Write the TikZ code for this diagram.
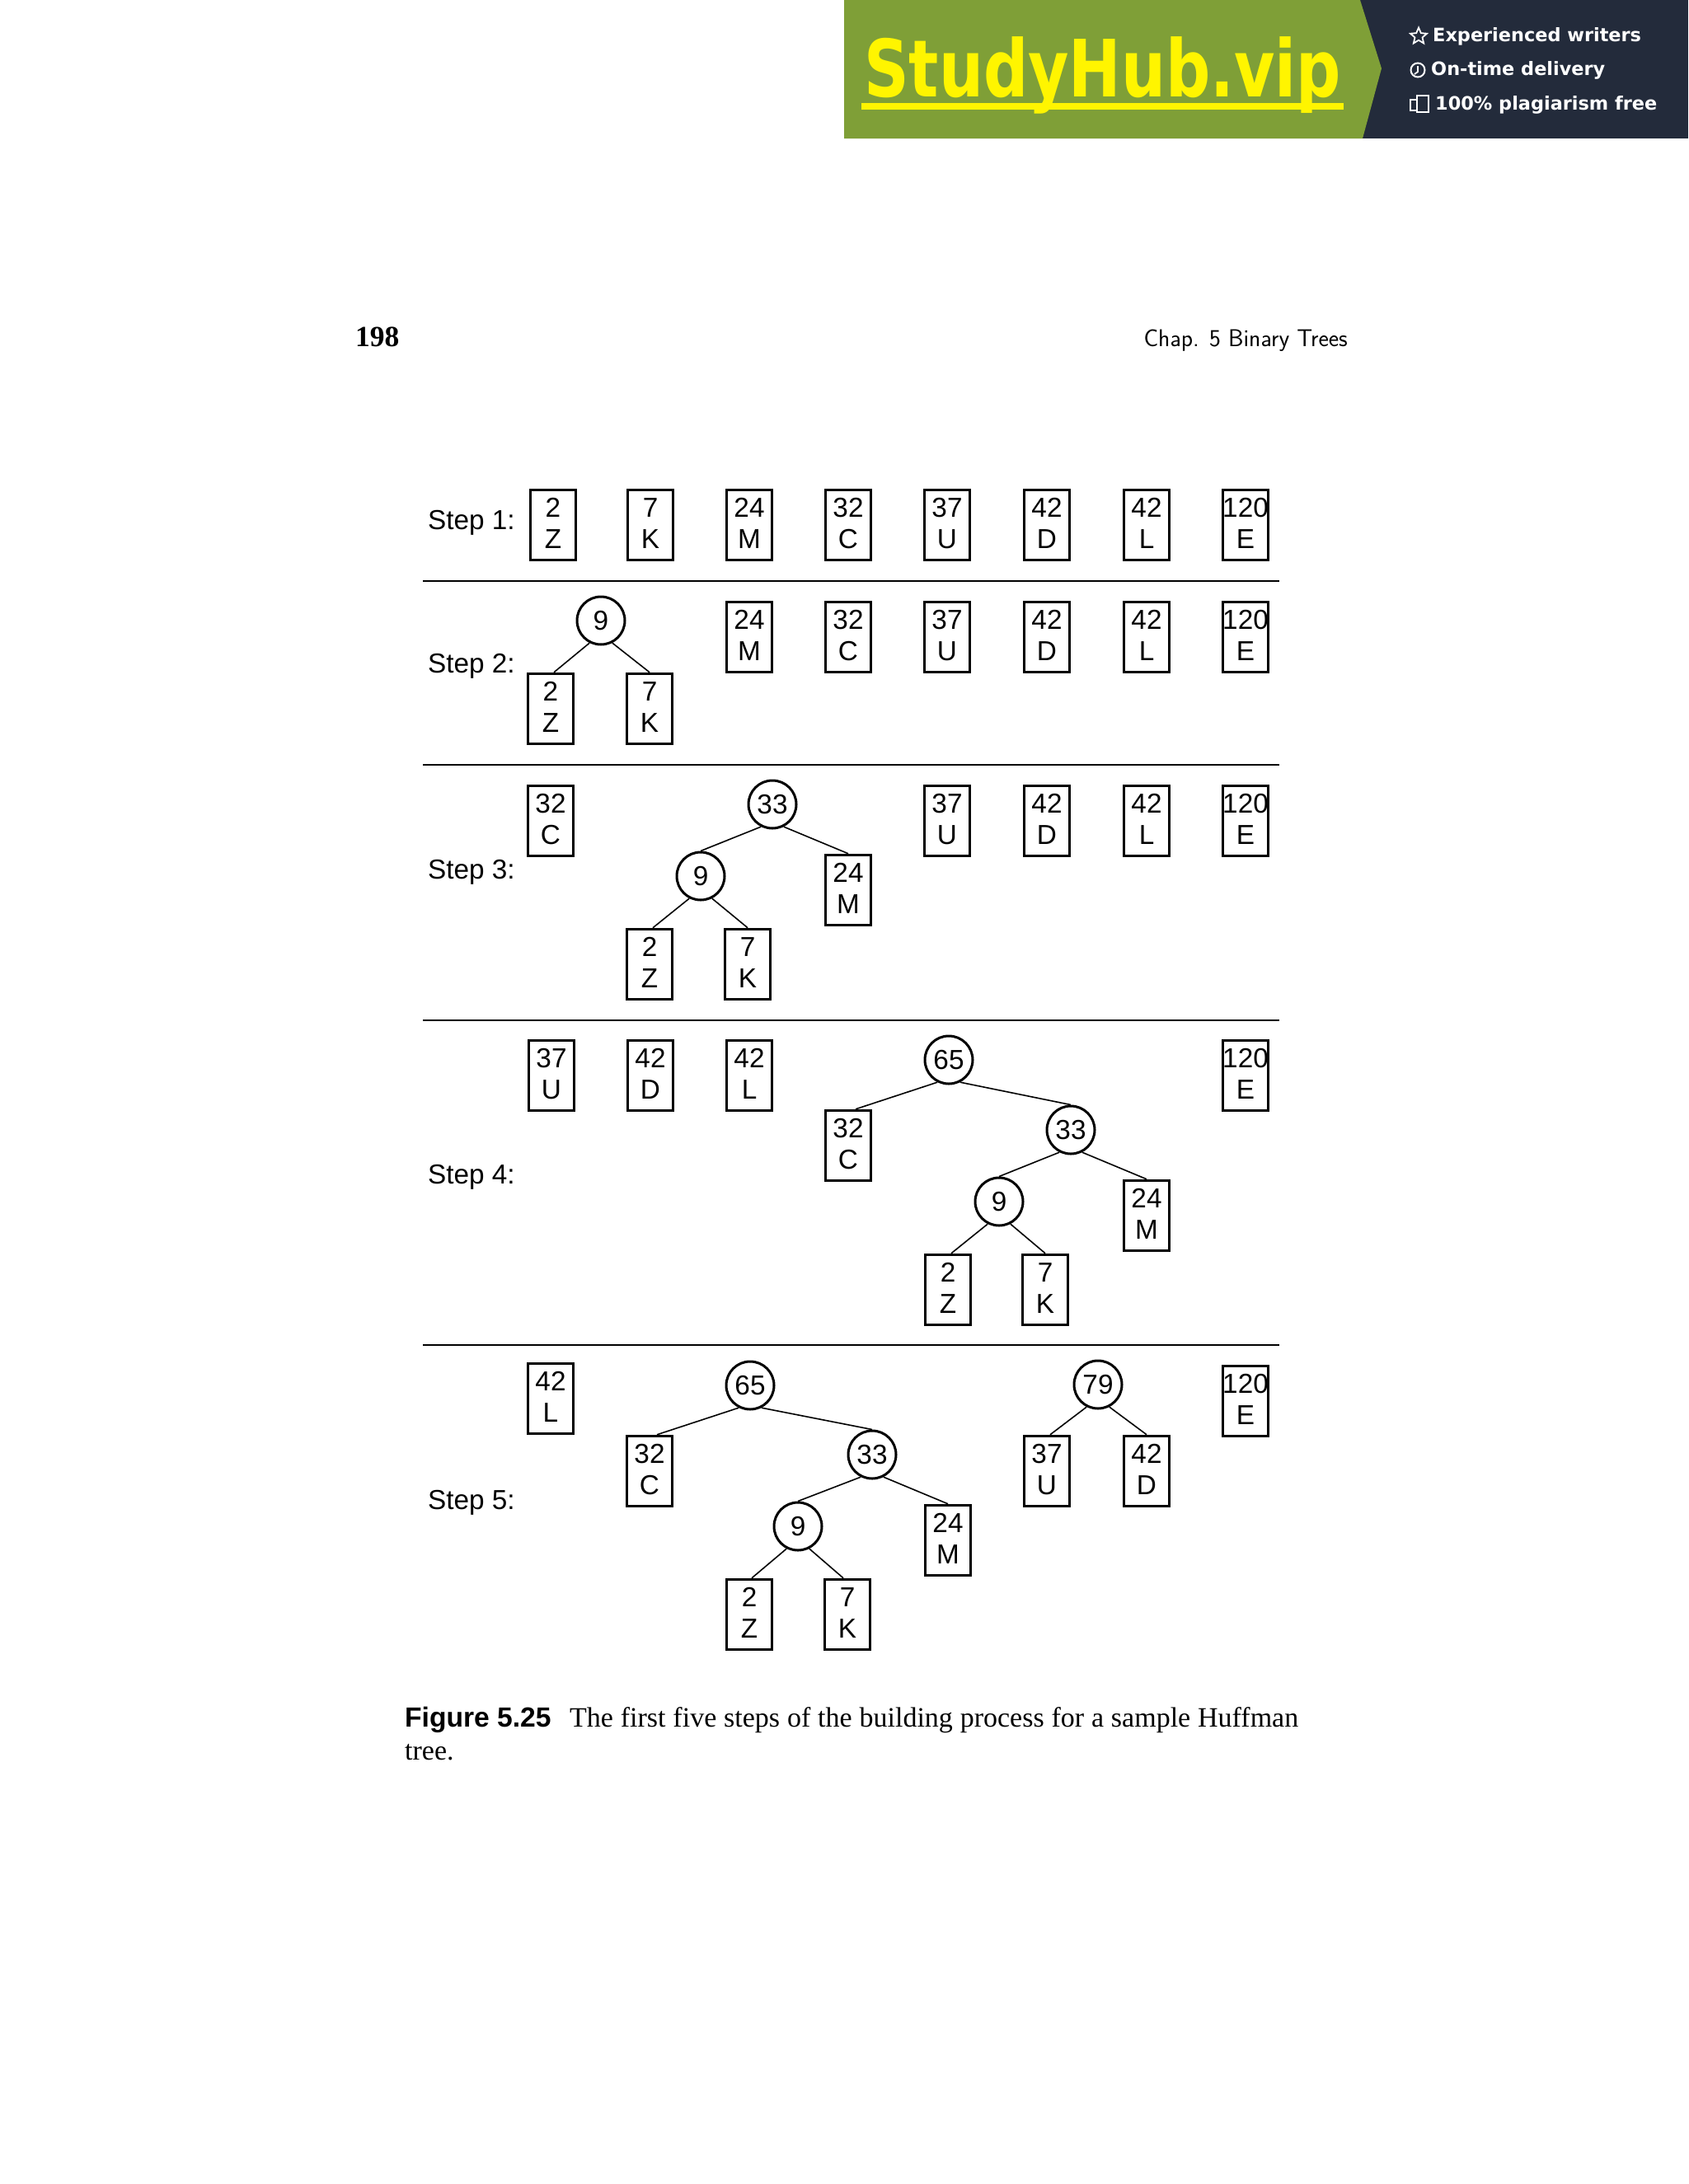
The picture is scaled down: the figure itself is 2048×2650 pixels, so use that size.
\documentclass[tikz,border=0pt]{standalone}
\usetikzlibrary{shapes.geometric}
\usepackage{fontspec}
\setmainfont{Liberation Serif}
\newfontfamily\hvf{Liberation Sans}
\newfontfamily\djvf{DejaVu Sans}
\definecolor{bgreen}{HTML}{7F9F37}
\definecolor{bdark}{HTML}{232B3B}
\definecolor{byellow}{HTML}{FFF500}
\tikzset{
 leaf/.style={draw,line width=3pt,minimum width=55pt,minimum height=85.5pt,inner sep=0pt,align=center,font=\hvf\fontsize{33.3}{38.5}\selectfont},
 inode/.style={draw,circle,line width=3pt,minimum size=58pt,inner sep=0pt,font=\hvf\fontsize{33.3}{38.5}\selectfont},
 edge/.style={line width=1.6pt},
 rule/.style={line width=1.8pt},
 steplabel/.style={anchor=west,inner sep=0pt,font=\hvf\fontsize{33.3}{38.5}\selectfont},
 bannertext/.style={anchor=west,inner sep=0pt,text=white,font=\djvf\bfseries\fontsize{22.4}{26}\selectfont},
}
\newcommand{\leafn}[5]{\node[leaf] (#1) at (#2,#3) {#4\\[-0.5pt]#5\rule[-4pt]{0pt}{1pt}};}
\newcommand{\intn}[4]{\node[inode] (#1) at (#2,#3) {#4};}
\begin{document}
\begin{tikzpicture}[x=1pt,y=-1pt]
\useasboundingbox (0,0) rectangle (2048,2650);
\fill[white] (0,0) rectangle (2048,2650);
% banner
\fill[bdark] (1640,0) rectangle (2048,168);
\fill[bgreen] (1024,0) -- (1650,0) -- (1676,83) -- (1653,168) -- (1024,168) -- cycle;
\node[inner sep=0pt,anchor=base west,text=byellow,font=\djvf\bfseries\fontsize{96}{100}\selectfont] (brand) at (1048,117) {\resizebox{579pt}{\height}{StudyHub.vip}};
\fill[byellow] (1045,125) rectangle (1630,133);
\node[bannertext] (b1) at (1738,44) {Experienced writers};
\node[bannertext] (b2) at (1736,85) {On-time delivery};
\node[bannertext] (b3) at (1741,127) {100\% plagiarism free};
\node[star,star points=5,star point ratio=2.2,draw=white,line width=1.8pt,minimum size=21pt,inner sep=0pt] (ic1) at (1721,44) {};
\draw[white,line width=2pt] (1720,85) circle (8.5pt);
\draw[white,line width=1.8pt] (1720,80) -- (1720,87) -- (1716,90);
\draw[white,line width=1.5pt] (1711,121) rectangle (1725,134);
\draw[white,line width=1.5pt,fill=bdark] (1719,116) rectangle (1733,136);
% header
\node[inner sep=0pt,anchor=base west,font=\bfseries\fontsize{35.5}{40}\selectfont] (pg) at (431,420) {198};
\node[inner sep=0pt,anchor=base east,font=\sffamily\fontsize{29.5}{30}\selectfont] (hd) at (1635,420) {Chap. 5 Binary Trees};
% rules
\foreach \yy/\nm in {705/a,928/b,1238/c,1632/d}{
 \coordinate (r\nm l) at (513,\yy); \coordinate (r\nm r) at (1552,\yy);
 \draw[rule] (r\nm l) -- (r\nm r);
}
% labels
\node[steplabel] (l1) at (519,634) {Step 1:};
\node[steplabel] (l2) at (519,808) {Step 2:};
\node[steplabel] (l3) at (519,1058) {Step 3:};
\node[steplabel] (l4) at (519,1428) {Step 4:};
\node[steplabel] (l5) at (519,1823) {Step 5:};
% step 1
\leafn{a1}{671}{637}{2}{Z}
\leafn{a2}{789}{637}{7}{K}
\leafn{a3}{909}{637}{24}{M}
\leafn{a4}{1029}{637}{32}{C}
\leafn{a5}{1149}{637}{37}{U}
\leafn{a6}{1270}{637}{42}{D}
\leafn{a7}{1391}{637}{42}{L}
\leafn{a8}{1511}{637}{120}{E}
% step 2
\intn{bn}{729}{753}{9}
\leafn{b1z}{668}{860}{2}{Z}
\leafn{b2k}{788}{860}{7}{K}
\leafn{b3}{909}{773}{24}{M}
\leafn{b4}{1029}{773}{32}{C}
\leafn{b5}{1149}{773}{37}{U}
\leafn{b6}{1270}{773}{42}{D}
\leafn{b7}{1391}{773}{42}{L}
\leafn{b8}{1511}{773}{120}{E}
\draw[edge] (bn.243) -- ([xshift=4pt]b1z.north);
\draw[edge] (bn.297) -- (b2k.north);
% step 3
\leafn{c1}{668}{996}{32}{C}
\intn{c33}{937}{976}{33}
\intn{c9}{850}{1063}{9}
\leafn{c24}{1029}{1080}{24}{M}
\leafn{c2}{788}{1170}{2}{Z}
\leafn{c7}{907}{1170}{7}{K}
\leafn{c5}{1149}{996}{37}{U}
\leafn{c6}{1270}{996}{42}{D}
\leafn{c7b}{1391}{996}{42}{L}
\leafn{c8}{1511}{996}{120}{E}
\draw[edge] (c33.243) -- (c9.north);
\draw[edge] (c33.297) -- (c24.north);
\draw[edge] (c9.243) -- ([xshift=4pt]c2.north);
\draw[edge] (c9.297) -- (c7.north);
% step 4
\leafn{d1}{669}{1305}{37}{U}
\leafn{d2}{789}{1305}{42}{D}
\leafn{d3}{909}{1305}{42}{L}
\intn{d65}{1151}{1286}{65}
\intn{d33}{1299}{1371}{33}
\leafn{d32}{1029}{1390}{32}{C}
\intn{d9}{1212}{1458}{9}
\leafn{d24}{1391}{1475}{24}{M}
\leafn{dz}{1150}{1565}{2}{Z}
\leafn{dk}{1268}{1565}{7}{K}
\leafn{d8}{1511}{1305}{120}{E}
\draw[edge] (d65.243) -- ([xshift=9pt]d32.north);
\draw[edge] (d65.297) -- (d33.north);
\draw[edge] (d33.243) -- (d9.north);
\draw[edge] (d33.297) -- (d24.north);
\draw[edge] (d9.243) -- ([xshift=4pt]dz.north);
\draw[edge] (d9.297) -- (dk.north);
% step 5
\leafn{e1}{668}{1697}{42}{L}
\intn{e65}{910}{1681}{65}
\leafn{e32}{788}{1785}{32}{C}
\intn{e33}{1058}{1765}{33}
\intn{e9}{968}{1852}{9}
\leafn{e24}{1150}{1869}{24}{M}
\leafn{ez}{909}{1959}{2}{Z}
\leafn{ek}{1028}{1959}{7}{K}
\intn{e79}{1332}{1680}{79}
\leafn{eu}{1270}{1785}{37}{U}
\leafn{ed}{1391}{1785}{42}{D}
\leafn{e8}{1511}{1700}{120}{E}
\draw[edge] (e65.243) -- ([xshift=9pt]e32.north);
\draw[edge] (e65.297) -- (e33.north);
\draw[edge] (e33.243) -- (e9.north);
\draw[edge] (e33.297) -- (e24.north);
\draw[edge] (e9.243) -- ([xshift=3pt]ez.north);
\draw[edge] (e9.297) -- ([xshift=-5pt]ek.north);
\draw[edge] (e79.243) -- ([xshift=4pt]eu.north);
\draw[edge] (e79.297) -- (ed.north);
% caption
\node[inner sep=0pt,anchor=base west,font=\hvf\bfseries\fontsize{33.6}{38}\selectfont] (cf) at (491,2095) {Figure 5.25};
\node[inner sep=0pt,anchor=base west,font=\fontsize{34}{38}\selectfont] (cm) at (691,2095) {\makebox[884pt][s]{The first five steps of the building process for a sample Huffman}};
\node[inner sep=0pt,anchor=base west,font=\fontsize{34}{38}\selectfont] (cn) at (491,2135) {tree.};
\end{tikzpicture}
\end{document}
